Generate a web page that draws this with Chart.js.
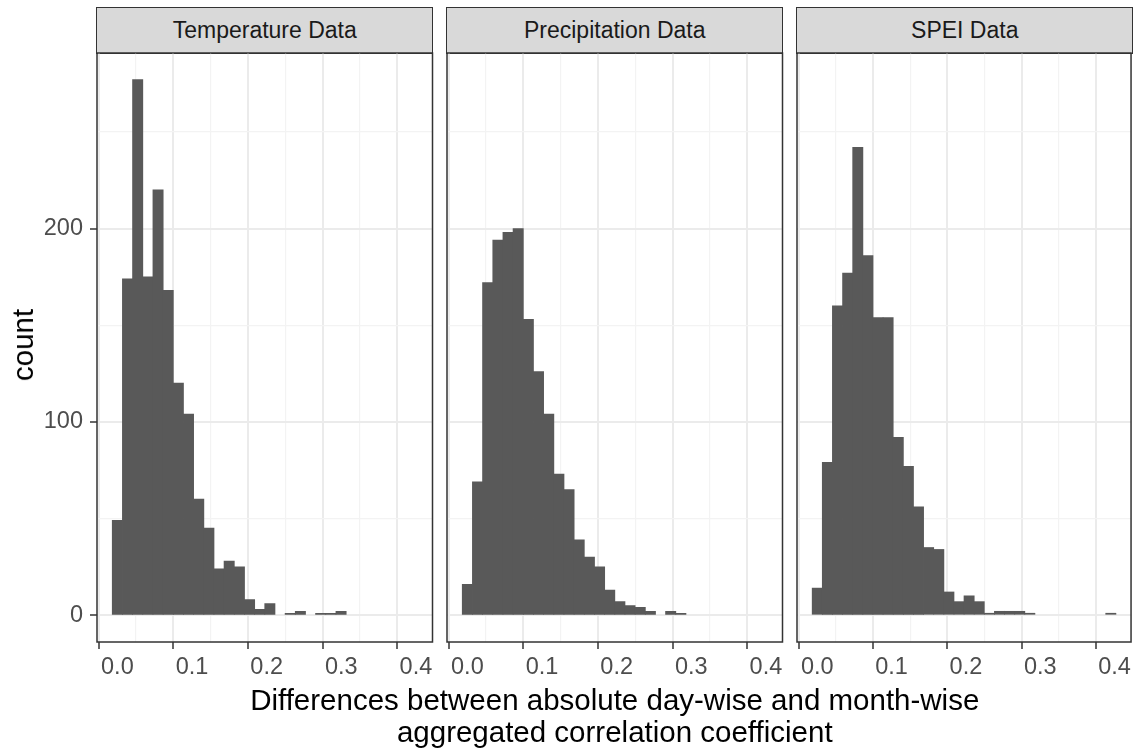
<!DOCTYPE html>
<html>
<head>
<meta charset="utf-8">
<script src="https://cdn.jsdelivr.net/npm/chart.js@4.4.1/dist/chart.umd.min.js"></script>
<style>
  html, body { margin:0; padding:0; background:#ffffff; width:1135px; height:749px; overflow:hidden; }
  #root { position:relative; width:1135px; height:749px; overflow:hidden; font-family:"Liberation Sans", Arial, sans-serif; }
  canvas { position:absolute; }
  .strip { position:absolute; top:7px; height:47px; box-sizing:border-box; background:#d9d9d9;
           border:1.5px solid #333333; color:#1a1a1a; font-size:23px;
           display:flex; align-items:center; justify-content:center; white-space:nowrap; }
  .xtitle { position:absolute; left:97px; width:1035.5px; top:684px; text-align:center;
            font-size:29.5px; line-height:32px; color:#000; white-space:nowrap; }
  .ytitle { position:absolute; left:22.5px; top:345px; transform:translate(-50%,-50%) rotate(-90deg);
            font-size:29.5px; color:#000; white-space:nowrap; }
</style>
</head>
<body>
<div id="root">
<div id="strips"></div>
<canvas id="c0"></canvas>
<canvas id="c1"></canvas>
<canvas id="c2"></canvas>
<div class="ytitle">count</div>
<div class="xtitle">Differences between absolute day-wise and month-wise<br>aggregated correlation coefficient</div>
</div>
<script>
// ---------------- data ----------------
const panelTitles = ["Temperature Data", "Precipitation Data", "SPEI Data"];

// histogram bin centres (30 bins)
const binCenters = [0, 0.0136, 0.0272, 0.0409, 0.0545, 0.0681, 0.0817, 0.0953, 0.1090, 0.1226,
                    0.1362, 0.1498, 0.1635, 0.1771, 0.1907, 0.2043, 0.2179, 0.2316, 0.2452, 0.2588,
                    0.2724, 0.2860, 0.2997, 0.3133, 0.3269, 0.3405, 0.3541, 0.3678, 0.3814, 0.3950];

const temperatureCounts   = [49, 174, 277, 175, 220, 168, 120, 104, 60, 45,
                             24, 28, 25, 8, 3, 6, 0, 1, 2, 0,
                             1, 1, 2, 0, 0, 0, 0, 0, 0, 0];
const precipitationCounts = [16, 69, 172, 194, 198, 200, 153, 126, 104, 73,
                             65, 39, 30, 25, 13, 7, 5, 4, 2, 0,
                             2, 1, 0, 0, 0, 0, 0, 0, 0, 0];
const speiCounts          = [14, 79, 160, 177, 242, 186, 154, 154, 92, 77,
                             56, 35, 34, 12, 7, 10, 7, 1, 2, 2,
                             2, 1, 0, 0, 0, 0, 0, 0, 0, 1];

const xTickValues = [0, 0.05, 0.1, 0.15, 0.2, 0.25, 0.3, 0.35, 0.4];
const yTickValues = [0, 50, 100, 150, 200, 250];

// ---------------- layout / style ----------------
const FONT = '"Liberation Sans", Arial, sans-serif';
const X_MIN = -0.0273, X_MAX = 0.4222;
const Y_MIN = -13.85, Y_MAX = 290.85;
const PANEL_TOP = 53, PANEL_BOTTOM = 642, PANEL_W = 335.5;
const PANEL_LEFTS = [97, 447, 797];
const X_AXIS_H = 50, PAD_TOP = 30, PAD_BOTTOM = 5;

const isMajorX = v => Math.abs(v * 10 - Math.round(v * 10)) < 1e-6;
const isMajorY = v => Math.abs(v / 100 - Math.round(v / 100)) < 1e-6;

const boxPlugin = {
  id: 'panelBox',
  afterDraw(chart) {
    const a = chart.chartArea, ctx = chart.ctx;
    ctx.save();
    ctx.strokeStyle = '#333333';
    ctx.lineWidth = 1.5;
    ctx.strokeRect(a.left, a.top, a.right - a.left, a.bottom - a.top);
    ctx.restore();
  }
};

const stripHost = document.getElementById('strips');
const seriesList = [temperatureCounts, precipitationCounts, speiCounts];

seriesList.forEach((counts, i) => {
  const panelLeft = PANEL_LEFTS[i];
  const showY = i === 0;
  const canvasLeft = showY ? 0 : panelLeft - 20;
  const padLeft = showY ? 0 : 20;
  const yWidth = showY ? panelLeft : 0;
  const canvasW = Math.min(Math.ceil(panelLeft - canvasLeft + PANEL_W + 20), 1135 - canvasLeft);
  const padRight = canvasW - (panelLeft - canvasLeft) - PANEL_W;
  const canvasTop = PANEL_TOP - PAD_TOP;
  const canvasH = PAD_TOP + (PANEL_BOTTOM - PANEL_TOP) + X_AXIS_H + PAD_BOTTOM;

  const cv = document.getElementById('c' + i);
  cv.width = canvasW; cv.height = canvasH;
  cv.style.left = canvasLeft + 'px'; cv.style.top = canvasTop + 'px';
  cv.style.width = canvasW + 'px'; cv.style.height = canvasH + 'px';

  const strip = document.createElement('div');
  strip.className = 'strip';
  strip.style.left = (panelLeft - 0.75) + 'px';
  strip.style.width = (PANEL_W + 1.5) + 'px';
  strip.textContent = panelTitles[i];
  stripHost.appendChild(strip);

  const data = [];
  binCenters.forEach((x, k) => { if (counts[k] > 0) data.push({ x: x, y: counts[k] }); });

  new Chart(cv, {
    type: 'bar',
    data: {
      datasets: [{
        data: data,
        backgroundColor: '#595959',
        borderWidth: 0,
        barPercentage: 1.0,
        categoryPercentage: 1.0,
        inflateAmount: 0.4
      }]
    },
    options: {
      responsive: false,
      animation: false,
      devicePixelRatio: 1,
      layout: { padding: { left: padLeft, right: padRight, top: PAD_TOP, bottom: PAD_BOTTOM } },
      plugins: { legend: { display: false }, tooltip: { enabled: false }, title: { display: false } },
      scales: {
        x: {
          type: 'linear', min: X_MIN, max: X_MAX, offset: false,
          afterBuildTicks: s => { s.ticks = xTickValues.map(v => ({ value: v })); },
          afterFit: s => { s.height = X_AXIS_H; },
          border: { display: false },
          grid: {
            color: c => (c.tick && isMajorX(c.tick.value)) ? '#ebebeb' : '#f3f3f3',
            lineWidth: c => (c.tick && isMajorX(c.tick.value)) ? 2 : 1.2,
            tickColor: c => (c.tick && isMajorX(c.tick.value)) ? '#333333' : 'rgba(0,0,0,0)',
            tickWidth: 1.5,
            tickLength: 7
          },
          ticks: {
            autoSkip: false, maxRotation: 0, minRotation: 0, padding: 4,
            color: '#4d4d4d', font: { family: FONT, size: 23.5 },
            callback: v => isMajorX(v) ? v.toFixed(1) : ''
          }
        },
        y: {
          type: 'linear', min: Y_MIN, max: Y_MAX,
          afterBuildTicks: s => { s.ticks = yTickValues.map(v => ({ value: v })); },
          afterFit: s => { s.width = yWidth; },
          border: { display: false },
          grid: {
            color: c => (c.tick && isMajorY(c.tick.value)) ? '#ebebeb' : '#f3f3f3',
            lineWidth: c => (c.tick && isMajorY(c.tick.value)) ? 2 : 1.2,
            tickColor: c => (c.tick && isMajorY(c.tick.value)) ? '#333333' : 'rgba(0,0,0,0)',
            tickWidth: 1.5,
            tickLength: 7,
            drawTicks: showY
          },
          ticks: {
            display: showY, padding: 7,
            color: '#4d4d4d', font: { family: FONT, size: 23.5 },
            callback: v => isMajorY(v) ? String(Math.round(v)) : ''
          }
        }
      }
    },
    plugins: [boxPlugin]
  });
});
</script>
</body>
</html>
